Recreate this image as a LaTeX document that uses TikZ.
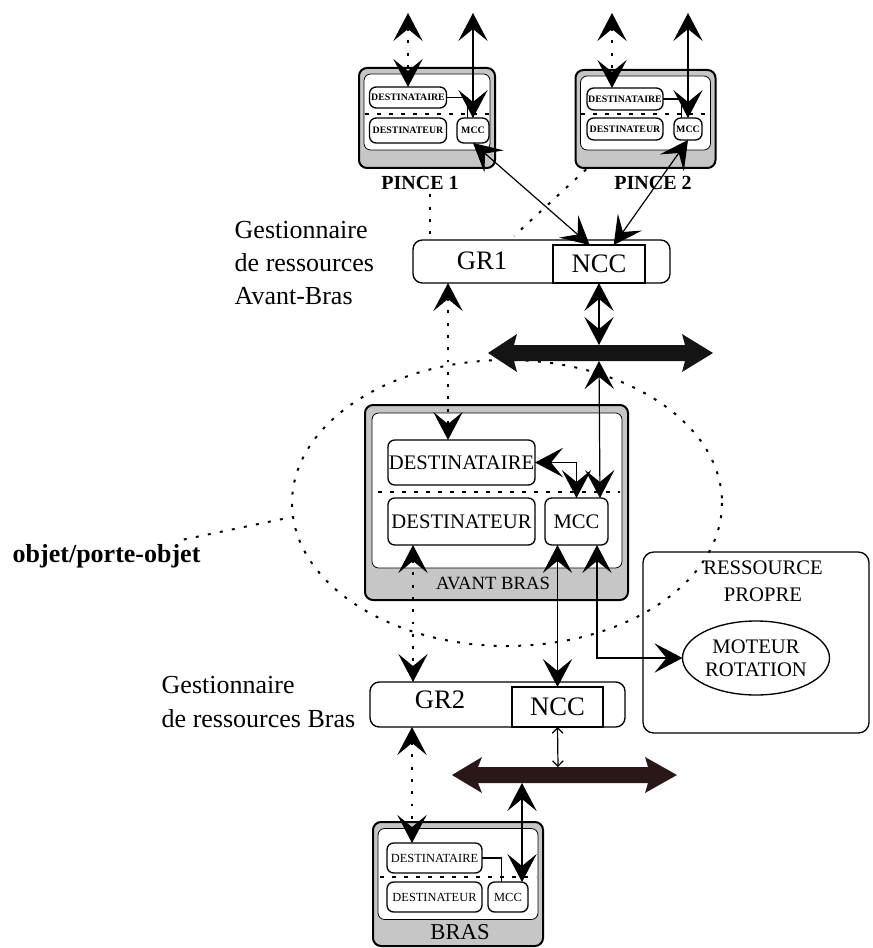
\documentclass[tikz,border=0pt]{standalone}
\usepackage{fontspec}
\setmainfont{Liberation Serif}
\usetikzlibrary{arrows.meta,shapes.geometric}
\definecolor{busb}{HTML}{2A1818}
\begin{document}
\begin{tikzpicture}[x=0.75pt,y=-0.75pt,
  cc/.style={{Stealth[length=21pt,width=22pt,inset=9pt]}-{Stealth[length=21pt,width=22pt,inset=9pt]}},
  smm/.style={{Straight Barb[length=4pt,width=8pt]}-{Straight Barb[length=4pt,width=8pt]}},
  sz/.style 2 args={minimum width=#1*0.75pt,minimum height=#2*0.75pt},
  base/.style={inner sep=0pt,outer sep=0pt},
  outerbox/.style={base,draw=black,line width=1.5pt,fill=gray!45,rounded corners=6pt},
  innerbox/.style={base,draw=black,line width=0.6pt,fill=white,rounded corners=5pt},
  objbox/.style={base,draw=black,line width=1pt,fill=white,rounded corners=5pt},
  grbox/.style={base,draw=black,line width=1pt,fill=white,rounded corners=7pt},
  nccbox/.style={base,draw=black,line width=1.1pt,fill=white},
  conn/.style={line width=0.9pt},
  dots/.style={line width=1.5pt,dash pattern=on 2.2pt off 7pt},
  sep/.style={line width=0.9pt,dash pattern=on 3pt off 6pt},
  tg/.style={font=\fontsize{19.5}{25}\selectfont},
  tgr/.style={font=\fontsize{20}{24}\selectfont},
  tab/.style={font=\fontsize{15.5}{17}\selectfont},
  tpi/.style={font=\fontsize{7.4}{8}\selectfont\bfseries},
  tbr/.style={font=\fontsize{9.3}{10}\selectfont},
  trp/.style={font=\fontsize{15.5}{20}\selectfont},
  tmo/.style={font=\fontsize{15.5}{17.5}\selectfont},
]
\useasboundingbox (0,0) rectangle (872,948);

% ---------- dotted grouping ellipse and dotted links ----------
\draw[dots] (507,503) ellipse [x radius=215, y radius=143];
\node[font=\fontsize{19.5}{25}\selectfont\bfseries, anchor=west] (obj) at (8,556) {objet/porte-objet};
\coordinate (ellw) at (292,517);
\draw[dots] ([xshift=-16pt]obj.north east) -- (ellw);

% ---------- PINCE 1 ----------
\node[outerbox, sz={136}{100}] (p1o) at (427,118) {};
\node[innerbox, sz={126}{76}] (p1i) at (427,112) {};
\node[objbox, tpi, sz={77}{21}] (p1dest) at (408,97.5) {DESTINATAIRE};
\node[objbox, tpi, sz={77}{25}] (p1detr) at (408,130.5) {DESTINATEUR};
\node[objbox, tpi, sz={32}{25}] (p1mcc) at (473,130.5) {MCC};
\draw[sep] (365,114) -- (490,114);
\node[font=\fontsize{15}{18}\selectfont\bfseries] (p1l) at (420,183) {PINCE 1};

% ---------- PINCE 2 ----------
\node[outerbox, sz={140}{98}] (p2o) at (645.5,119) {};
\node[innerbox, sz={130}{74}] (p2i) at (645.5,113) {};
\node[objbox, tpi, sz={76}{22}] (p2dest) at (625,99) {DESTINATAIRE};
\node[objbox, tpi, sz={76}{22}] (p2detr) at (625,129) {DESTINATEUR};
\node[objbox, tpi, sz={28}{22}] (p2mcc) at (688,129) {MCC};
\draw[sep] (581,114) -- (710,114);
\node[font=\fontsize{15}{18}\selectfont\bfseries] (p2l) at (653,183) {PINCE 2};

% ---------- GR1 ----------
\node[tg, align=left, anchor=west] (g1txt) at (230,263) {Gestionnaire\\de ressources\\Avant-Bras};
\node[grbox, sz={257}{43}] (gr1) at (541.5,261.5) {};
\node[nccbox, tgr, sz={92}{38}] (ncc1) at (599,264) {NCC};
\node[tgr] (gr1l) at (482,261) {GR1};

% dotted links pinces -> GR1
\coordinate (x430) at (430,0);
\draw[dots] (x430 |- p1l.south) -- (x430 |- gr1.north);
\coordinate (g1p) at (514,236);
\draw[dots] ([xshift=8pt,yshift=-1pt]p2o.south west) -- (g1p);

% ---------- bus 1 ----------
\fill[black!92] (488,353) -- (517,334) -- (514,345) -- (685,345) -- (682,334) -- (713,353)
  -- (682,372) -- (685,361) -- (514,361) -- (517,372) -- cycle;
\coordinate (b1t) at (599,345);
\coordinate (b1b) at (599,361);

% ---------- AVANT BRAS ----------
\node[outerbox, sz={263}{195}] (abo) at (496.5,502.5) {};
\node[innerbox, sz={250}{155}] (abi) at (497,490.5) {};
\node[objbox, tab, sz={147}{45}] (abdest) at (461.5,462.5) {DESTINATAIRE};
\node[objbox, tab, sz={147}{47}] (abdetr) at (461.5,521.5) {DESTINATEUR};
\node[objbox, tab, sz={63}{47}] (abmcc) at (576.5,521.5) {MCC};
\draw[sep] (378,492) -- (620,492);
\node[font=\fontsize{14}{16}\selectfont] (abl) at (493,583) {AVANT BRAS};

% ---------- GR2 ----------
\node[tg, align=left, anchor=west] (g2txt) at (157,702) {Gestionnaire\\de ressources Bras};
\node[grbox, sz={255}{45}] (gr2) at (497.5,704.5) {};
\node[nccbox, tgr, sz={91}{40}] (ncc2) at (557.5,707) {NCC};
\node[tgr] (gr2l) at (440,700) {GR2};

% ---------- RESSOURCE PROPRE ----------
\node[base, draw=black, line width=1pt, rounded corners=8pt, sz={226}{181}] (rp) at (756,642.5) {};
\node[trp, align=center] (rpl) at (763,581) {RESSOURCE\\PROPRE};
\node[base, draw=black, line width=1pt, fill=white, ellipse, tmo, align=center, sz={147}{74}] (motor) at (756,658) {MOTEUR\\ROTATION};

% ---------- bus 2 ----------
\fill[busb] (452,775) -- (482,757) -- (478,767) -- (648,767) -- (645,757) -- (677,775)
  -- (645,793) -- (648,783) -- (478,783) -- (482,793) -- cycle;
\coordinate (b2t) at (558,767);
\coordinate (b2b) at (522,783);

% ---------- BRAS ----------
\node[outerbox, sz={170}{124}] (bro) at (458,884) {};
\node[innerbox, sz={160}{91}] (bri) at (458,874) {};
\node[objbox, tbr, sz={95}{30}] (brdest) at (434.5,858) {DESTINATAIRE};
\node[objbox, tbr, sz={95}{30}] (brdetr) at (434.5,897) {DESTINATEUR};
\node[objbox, tbr, sz={40}{30}] (brmcc) at (508,897) {MCC};
\draw[sep] (380,877) -- (536,877);
\node[font=\fontsize{17}{20}\selectfont] (brl) at (460,932) {BRAS};

% ---------- connectors ----------
% pince 1
\coordinate (p1t1) at (408,13);
\coordinate (p1t2) at (473,13);
\draw[dots, cc] (p1t1) -- (p1dest.north);
\draw[conn] (p1dest.east) -| ([xshift=-4pt]p1mcc.north);
\draw[conn, cc] (p1t2) -- (p1mcc.north);
\draw[conn, cc] (p1mcc.south) -- ([xshift=-7pt]ncc1.north);
% pince 2
\coordinate (p2t1) at (612,13);
\coordinate (p2t2) at (688,13);
\draw[dots, cc] (p2t1) -- (p2t1 |- p2dest.north);
\draw[conn] (p2dest.east) -| ([xshift=-5pt]p2mcc.north);
\draw[conn, cc] (p2t2) -- (p2mcc.north);
\draw[conn, cc] (p2mcc.south) -- ([xshift=11pt]ncc1.north);
% GR1 / bus 1
\draw[conn, cc] (ncc1.south) -- (b1t);
\coordinate (x448) at (448,0);
\draw[dots, cc] (x448 |- gr1.south) -- (x448 |- abdest.north);
\coordinate (x600) at (600,0);
\draw[conn, cc] (b1b) -- (x600 |- abmcc.north);
% inside avant bras
\draw[conn, cc] (abdest.east) -| (abmcc.north);
% below avant bras
\coordinate (x413) at (413,0);
\draw[dots, cc] (x413 |- abdetr.south) -- (x413 |- gr2.north);
\draw[conn, cc] (abmcc.south -| ncc2.north) -- (ncc2.north);
\coordinate (x597) at (597,0);
\draw[conn, cc] (x597 |- abmcc.south) |- (motor.west);
% GR2 / bus 2
\draw[conn, smm] (ncc2.south) -- (b2t);
\coordinate (x412) at (412,0);
\draw[dots, cc] (x412 |- gr2.south) -- (x412 |- brdest.north);
\draw[conn, cc] (b2b) -- (b2b |- brmcc.north);
\draw[conn] (brdest.east) -| ([xshift=-5pt]brmcc.north);
\end{tikzpicture}
\end{document}
